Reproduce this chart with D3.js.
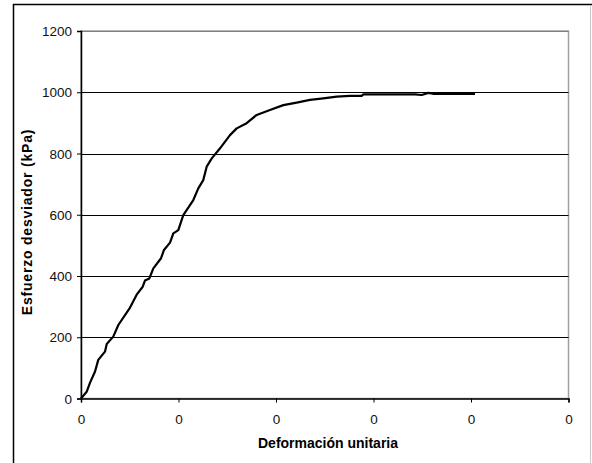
<!DOCTYPE html>
<html>
<head>
<meta charset="utf-8">
<script src="https://cdn.jsdelivr.net/npm/d3@7"></script>
<style>
  body { margin: 0; background: #fff; }
  svg { display: block; }
</style>
</head>
<body>
<div id="chart"></div>
<script>
// ── Data ─────────────────────────────────────────────────────────────────
const strain = [
  0, 0.00058, 0.00092, 0.00144, 0.00177, 0.00246, 0.00264, 0.00331, 0.00383,
  0.00503, 0.00571, 0.00633, 0.00656, 0.00701, 0.00742, 0.00821, 0.00851,
  0.00913, 0.00947, 0.00998, 0.01049, 0.01152, 0.01203, 0.01254, 0.01289,
  0.01341, 0.01426, 0.01528, 0.01597, 0.01699, 0.01802, 0.01938, 0.02075,
  0.02212, 0.02349, 0.02485, 0.02623, 0.02759, 0.02879, 0.02896, 0.03426,
  0.03494, 0.03562, 0.03610, 0.04041
];
const stress = [
  0, 22, 51, 88, 126, 153, 178, 202, 240,
  297, 339, 365, 385, 392, 425, 458, 485,
  509, 539, 550, 599, 648, 686, 713, 757,
  784, 817, 860, 882, 899, 926, 942, 958,
  966, 975, 980, 986, 988, 988, 993, 993,
  991, 998, 995, 995
];
const xTicks = [0, 0.01, 0.02, 0.03, 0.04, 0.05];
const yTicks = [0, 200, 400, 600, 800, 1000, 1200];

const data = strain.map((s, i) => ({ x: s, y: stress[i] }));

const FONT = "'Liberation Sans', Arial, sans-serif";

// ── SVG ──────────────────────────────────────────────────────────────────
const W = 592, H = 463;
const svg = d3.select("#chart").append("svg")
  .attr("width", W).attr("height", H)
  .attr("font-family", FONT);

// outer frame
svg.append("rect")
  .attr("x", 13.5).attr("y", 4.5)
  .attr("width", 640).attr("height", 500)
  .attr("fill", "none").attr("stroke", "#000").attr("stroke-width", 1.5);
svg.append("line")
  .attr("x1", 590.5).attr("x2", 590.5).attr("y1", 5).attr("y2", H)
  .attr("stroke", "#c8c8c8");

const margin = { top: 31, left: 81 };
const width = 487.5, height = 367.5;
const g = svg.append("g").attr("transform", `translate(${margin.left},${margin.top})`);

// ── Scales ───────────────────────────────────────────────────────────────
const x = d3.scaleLinear().domain([0, 0.05]).range([0, width]);
const y = d3.scaleLinear().domain([0, 1200]).range([height, 0]);

// plot area border
g.append("rect")
  .attr("x", 0).attr("y", 0).attr("width", width).attr("height", height)
  .attr("fill", "none").attr("stroke", "#a0a0a0").attr("stroke-width", 1.5);

// gridlines
g.append("g")
  .selectAll("line")
  .data(yTicks.filter(d => d > 0))
  .join("line")
  .attr("x1", 0).attr("x2", width)
  .attr("y1", d => Math.round(y(d)) + 0.5).attr("y2", d => Math.round(y(d)) + 0.5)
  .attr("stroke", d => d === 1200 ? "#808080" : "#000")
  .attr("stroke-width", 1.2);

// ── Axes ─────────────────────────────────────────────────────────────────
const xAxis = g.append("g")
  .attr("transform", `translate(0,${height})`)
  .call(d3.axisBottom(x).tickValues(xTicks).tickFormat(d3.format(".0f")).tickSize(4).tickPadding(12))
  .attr("font-family", FONT).attr("font-size", 13.5);
xAxis.select(".domain").attr("stroke", "#000").attr("stroke-width", 1.5);
xAxis.selectAll(".tick line").attr("stroke", "#000");
xAxis.selectAll(".tick text").attr("fill", "#111");

const yAxis = g.append("g")
  .call(d3.axisLeft(y).tickValues(yTicks).tickFormat(d3.format("d")).tickSize(4).tickPadding(5))
  .attr("font-family", FONT).attr("font-size", 13.5);
yAxis.select(".domain").attr("stroke", "#000").attr("stroke-width", 1.5);
yAxis.selectAll(".tick line").attr("stroke", "#000");
yAxis.selectAll(".tick text").attr("fill", "#111").attr("dy", "0.35em");

// ── Curve ────────────────────────────────────────────────────────────────
g.append("path")
  .datum(data)
  .attr("fill", "none")
  .attr("stroke", "#000")
  .attr("stroke-width", 2.2)
  .attr("stroke-linejoin", "round")
  .attr("d", d3.line().x(d => x(d.x)).y(d => y(d.y)));

// ── Axis Labels ──────────────────────────────────────────────────────────
svg.append("text")
  .attr("x", 328).attr("y", 448)
  .attr("text-anchor", "middle")
  .attr("font-size", 14).attr("font-weight", "bold")
  .text("Deformación unitaria");

svg.append("text")
  .attr("transform", "translate(32,222) rotate(-90)")
  .attr("text-anchor", "middle")
  .attr("font-size", 14).attr("font-weight", "bold")
  .attr("letter-spacing", 0.8)
  .text("Esfuerzo desviador (kPa)");
</script>
</body>
</html>
